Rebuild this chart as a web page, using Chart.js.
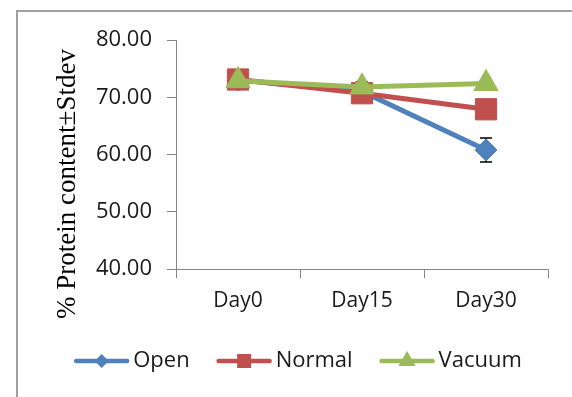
<!DOCTYPE html>
<html>
<head>
<meta charset="utf-8">
<script src="https://cdn.jsdelivr.net/npm/chart.js@4/dist/chart.umd.min.js"></script>
<style>
html,body{margin:0;padding:0;background:#fff;}
#c{display:block;}
</style>
</head>
<body>
<canvas id="c" width="572" height="397"></canvas>
<script>
// ---- data ----
const categories = ['Day0', 'Day15', 'Day30'];
const seriesNames = ['Open', 'Normal', 'Vacuum'];
const openValues = [73.0, 71.0, 60.8];
const openErr = [0.4, 0.5, 2.1];
const normalValues = [73.1, 70.7, 67.9];
const normalErr = [0.5, 0.5, 0.5];
const vacuumValues = [72.9, 71.8, 72.4];
const vacuumErr = [0.4, 0.9, 0.2];
const yTicks = [40, 50, 60, 70, 80];
const yTitle = '% Protein content\u00B1Stdev';

const colors = ['#4F81BD', '#C0504D', '#9BBB59'];
const pointStyles = ['rectRot', 'rect', 'triangle'];
const errs = [openErr, normalErr, vacuumErr];

const frame = {
  id: 'frame',
  beforeDraw(chart) {
    const ctx = chart.ctx;
    ctx.save();
    ctx.strokeStyle = '#a0a0a0';
    ctx.lineWidth = 2;
    ctx.strokeRect(17, 11, 700, 500);
    ctx.restore();
  }
};

const axisTitle = {
  id: 'axisTitle',
  afterDraw(chart) {
    const ctx = chart.ctx;
    ctx.save();
    ctx.translate(68, 184);
    ctx.rotate(-Math.PI / 2);
    ctx.font = '27px "Liberation Serif"';
    ctx.fillStyle = '#000';
    ctx.textAlign = 'center';
    ctx.textBaseline = 'middle';
    ctx.fillText(yTitle, 0, 0);
    ctx.restore();
  }
};

const errorBars = {
  id: 'errorBars',
  beforeDatasetsDraw(chart) {
    const ctx = chart.ctx;
    const ys = chart.scales.y;
    ctx.save();
    ctx.strokeStyle = '#000';
    ctx.lineWidth = 1.5;
    chart.data.datasets.forEach((ds, i) => {
      const meta = chart.getDatasetMeta(i);
      const e = errs[i];
      meta.data.forEach((pt, j) => {
        const v = ds.data[j];
        const x = pt.x;
        const y1 = ys.getPixelForValue(v + e[j]);
        const y2 = ys.getPixelForValue(v - e[j]);
        ctx.beginPath();
        ctx.moveTo(x, y1); ctx.lineTo(x, y2);
        ctx.moveTo(x - 6, y1); ctx.lineTo(x + 6, y1);
        ctx.moveTo(x - 6, y2); ctx.lineTo(x + 6, y2);
        ctx.stroke();
      });
    });
    ctx.restore();
  }
};

function drawMarker(ctx, style, x, y, color) {
  ctx.fillStyle = color;
  ctx.beginPath();
  if (style === 'rectRot') {
    const r = 7;
    ctx.moveTo(x - r, y); ctx.lineTo(x, y - r); ctx.lineTo(x + r, y); ctx.lineTo(x, y + r);
  } else if (style === 'rect') {
    const s = 7;
    ctx.rect(x - s, y - s, 2 * s, 2 * s);
  } else {
    const r = 10;
    ctx.moveTo(x, y - r);
    ctx.lineTo(x + Math.sin(Math.PI / 3) * r, y + r / 2);
    ctx.lineTo(x - Math.sin(Math.PI / 3) * r, y + r / 2);
  }
  ctx.closePath();
  ctx.fill();
}

const customLegend = {
  id: 'customLegend',
  afterDraw(chart) {
    const ctx = chart.ctx;
    ctx.save();
    ctx.font = '22px "Open Sans"';
    ctx.textBaseline = 'middle';
    ctx.textAlign = 'left';
    const lineLen = 55, gapText = 4, gapItem = 27;
    let total = 0;
    const widths = seriesNames.map(n => ctx.measureText(n).width);
    widths.forEach((w, i) => { total += lineLen + gapText + w + (i < widths.length - 1 ? gapItem : 0); });
    let x = 298 - total / 2;
    const y = 361;
    seriesNames.forEach((n, i) => {
      ctx.strokeStyle = colors[i];
      ctx.lineWidth = 4.5;
      ctx.lineCap = 'round';
      ctx.beginPath();
      ctx.moveTo(x + 2, y); ctx.lineTo(x + lineLen - 2, y);
      ctx.stroke();
      drawMarker(ctx, pointStyles[i], x + lineLen / 2, y, colors[i]);
      ctx.fillStyle = '#1a1a1a';
      ctx.fillText(n, x + lineLen + gapText, y);
      x += lineLen + gapText + widths[i] + gapItem;
    });
    ctx.restore();
  }
};

const makeDs = (label, data, i, order, radius) => ({
  label, data, order,
  borderColor: colors[i],
  backgroundColor: colors[i],
  borderWidth: 5,
  pointStyle: pointStyles[i],
  pointRadius: radius,
  pointHoverRadius: radius,
  pointBorderWidth: 1,
  pointBorderColor: colors[i],
  pointBackgroundColor: colors[i],
  tension: 0
});

new Chart(document.getElementById('c'), {
  type: 'line',
  data: {
    labels: categories,
    datasets: [
      makeDs(seriesNames[0], openValues, 0, 3, 11),
      makeDs(seriesNames[1], normalValues, 1, 2, 15),
      makeDs(seriesNames[2], vacuumValues, 2, 1, 14)
    ]
  },
  options: {
    responsive: false,
    animation: false,
    events: [],
    layout: { padding: { left: 0, right: 24, top: 40, bottom: 78 } },
    plugins: {
      legend: { display: false },
      tooltip: { enabled: false }
    },
    scales: {
      x: {
        type: 'category',
        offset: true,
        grid: {
          offset: true,
          drawOnChartArea: false,
          drawTicks: true,
          tickLength: 9,
          color: '#868686'
        },
        border: { color: '#868686', width: 1 },
        ticks: {
          font: { family: '"Open Sans"', size: 21 },
          color: '#1a1a1a',
          padding: 10,
          maxRotation: 0
        },
        afterFit(scale) { scale.height = 50; }
      },
      y: {
        min: 40,
        max: 80,
        afterBuildTicks(scale) { scale.ticks = yTicks.map(v => ({ value: v })); },
        grid: {
          drawOnChartArea: false,
          drawTicks: true,
          tickLength: 9,
          color: '#868686'
        },
        border: { color: '#868686', width: 1 },
        ticks: {
          font: { family: '"Open Sans"', size: 22 },
          color: '#1a1a1a',
          padding: 15,
          callback: v => Number(v).toFixed(2)
        },
        title: { display: false },
        afterFit(scale) { scale.width = 176; }
      }
    }
  },
  plugins: [frame, errorBars, customLegend, axisTitle]
});
</script>
</body>
</html>
